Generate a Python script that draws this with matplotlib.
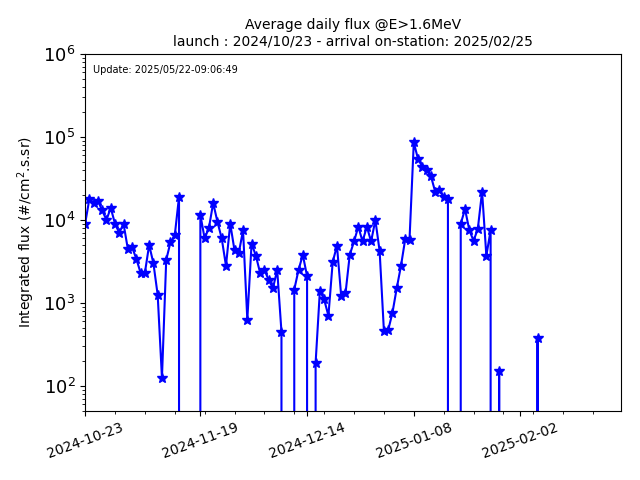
import numpy as np
import matplotlib
matplotlib.use("Agg")
import matplotlib.pyplot as plt
import matplotlib.dates as mdates
from datetime import datetime, timedelta

START = datetime(2024, 10, 23)
# daily average flux, one value per day from START (0 = no data)
flux = [9e3, 1.8e4, 1.6e4, 1.7e4, 1.3e4, 1.0e4, 1.4e4, 9e3, 7e3, 9e3,
        4.5e3, 4.7e3, 3.4e3, 2.3e3, 2.3e3, 5e3, 3e3, 1.25e3, 125, 3.3e3,
        5.4e3, 6.5e3, 1.9e4, 0, 0, 0, 0, 1.15e4, 6e3, 8e3,
        1.6e4, 9.5e3, 6e3, 2.8e3, 9e3, 4.3e3, 4e3, 7.5e3, 630, 5.2e3,
        3.7e3, 2.3e3, 2.5e3, 1.9e3, 1.5e3, 2.5e3, 450, 0, 0, 1.45e3,
        2.5e3, 3.8e3, 2.1e3, 0, 190, 1.4e3, 1.1e3, 700, 3.1e3, 4.9e3,
        1.2e3, 1.3e3, 3.8e3, 5.5e3, 8.3e3, 5.5e3, 8.3e3, 5.5e3, 1.0e4, 4.2e3,
        460, 470, 760, 1.5e3, 2.8e3, 5.9e3, 5.8e3, 8.6e4, 5.4e4, 4.4e4,
        4e4, 3.4e4, 2.2e4, 2.3e4, 1.9e4, 1.8e4, 0, 0, 9e3, 1.35e4,
        7.6e3, 5.6e3, 7.8e3, 2.2e4, 3.7e3, 7.5e3, 0, 150, 0, 0,
        0, 0, 0, 0, 0, 0, 380, 0]
dates = [START + timedelta(days=i) for i in range(len(flux))]
tick_dates = [datetime(2024, 10, 23), datetime(2024, 11, 19), datetime(2024, 12, 14),
              datetime(2025, 1, 8), datetime(2025, 2, 2)]

fig, ax = plt.subplots(figsize=(6.4, 4.8), dpi=100)
fig.subplots_adjust(left=0.133, right=0.970, top=0.8875, bottom=0.144)
ax.plot(dates, flux, color="blue", marker="*", markersize=7, lw=1.5)
ax.set_yscale("log")
ax.set_ylim(50, 1e6)
ax.set_xlim(START, START + timedelta(days=125.5))
ax.set_xticks(tick_dates)
ax.xaxis.set_major_formatter(mdates.DateFormatter("%Y-%m-%d"))
ax.set_xticks([START + timedelta(days=d) for d in range(0, 126, 7)], minor=True)
plt.setp(ax.get_xticklabels(), rotation=20, fontsize=10)
ax.tick_params(axis="y", labelsize=13)
ax.set_ylabel("Integrated flux (#/cm$^2$.s.sr)")
ax.set_title("Average daily flux @E>1.6MeV\nlaunch : 2024/10/23 - arrival on-station: 2025/02/25",
             fontsize=10)
ax.text(0.015, 0.97, "Update: 2025/05/22-09:06:49", transform=ax.transAxes,
        fontsize=7, va="top")
fig.savefig("out.png", dpi=100)
